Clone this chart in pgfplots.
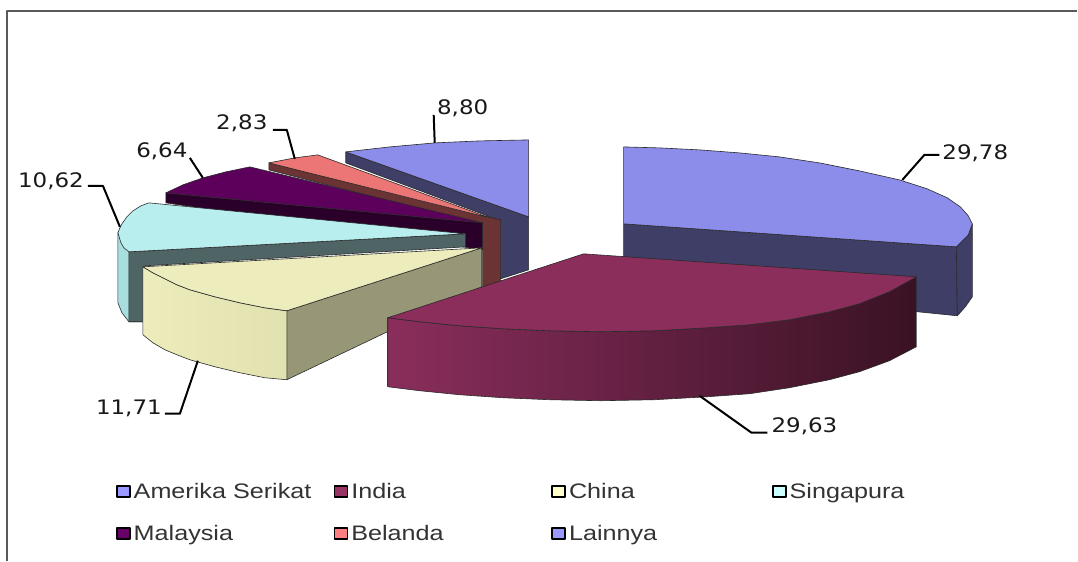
\documentclass[border=0pt]{standalone}
\usepackage{pgfplots}
\pgfplotsset{compat=1.18}
\usepackage{fontspec}
\setmainfont{Liberation Sans}
\newfontfamily\lab[FakeStretch=1.15]{DejaVu Sans}
\newfontfamily\leg[FakeStretch=1.2]{Liberation Sans}
\definecolor{amTop}{HTML}{8C8CEA}\definecolor{amSide}{HTML}{3E3E66}
\definecolor{inTop}{HTML}{8B2E5B}\definecolor{inA}{HTML}{8A2E5C}\definecolor{inB}{HTML}{5C1D3C}\definecolor{inC}{HTML}{3A1224}
\definecolor{chTop}{HTML}{ECECBC}\definecolor{chOut}{HTML}{E2E2B0}\definecolor{chSide}{HTML}{979778}
\definecolor{sgTop}{HTML}{B9EEEE}\definecolor{sgSide}{HTML}{4F6565}\definecolor{sgOut}{HTML}{A8DEDE}
\definecolor{myTop}{HTML}{5C005C}\definecolor{mySide}{HTML}{2A002A}
\definecolor{beTop}{HTML}{EC7676}\definecolor{beSide}{HTML}{6B3333}
\definecolor{edge}{HTML}{2A2A2A}
\definecolor{lgA}{HTML}{9999FF}\definecolor{lgB}{HTML}{993366}\definecolor{lgC}{HTML}{FFFFCC}
\definecolor{lgD}{HTML}{CCFFFF}\definecolor{lgE}{HTML}{660066}\definecolor{lgF}{HTML}{FF8080}
\newcommand{\dlab}[3]{\node[font=\lab\fontsize{20}{22}\selectfont,text=black!90,inner sep=0pt] at (axis cs:#1,#2) {#3};}
\begin{document}
\begin{tikzpicture}
\begin{axis}[
  scale only axis, width=1078pt, height=561pt,
  xmin=0, xmax=1078, ymin=0, ymax=561, y dir=reverse,
  hide axis, clip=false, no markers,
  every axis plot/.append style={forget plot, line width=0.6pt, draw=edge, line join=round},
  legend columns=4,
  legend cell align=left,
  legend image code/.code={\draw[#1,draw=black,line width=1.8pt] (0pt,-5.5pt) rectangle (13pt,5.5pt);},
  legend style={at={(axis cs:116,483.5)},anchor=north west,draw=none,fill=none,inner sep=0pt,outer sep=0pt,
    font=\leg\fontsize{21}{23}\selectfont,row sep=25.5pt,text=black!80,
    nodes={inner sep=0pt,outer sep=0pt},column sep=3pt},
]
\addlegendimage{fill=lgA}\addlegendentry{\makebox[197pt][l]{Amerika Serikat}}
\addlegendimage{fill=lgB}\addlegendentry{\makebox[197pt][l]{India}}
\addlegendimage{fill=lgC}\addlegendentry{\makebox[200pt][l]{China}}
\addlegendimage{fill=lgD}\addlegendentry{\makebox[130pt][l]{Singapura}}
\addlegendimage{fill=lgE}\addlegendentry{Malaysia}
\addlegendimage{fill=lgF}\addlegendentry{Belanda}
\addlegendimage{fill=lgA}\addlegendentry{Lainnya}

% full extent of the picture
\addplot[draw=none,line width=0pt] coordinates {(0,0)(1078,0)(1078,561)(0,561)};
% frame
\addplot[draw=black!65,line width=1.5pt] coordinates {(7,561)(7,11)(1078,11)};

% Lainnya
\addplot[fill=amSide] coordinates {(346,152)(529,217)(529,270)(501,279)(501,221)(346,163)} --cycle;
\addplot[fill=amTop] coordinates {(346,152)(390,147)(435,143)(480,141)(529,140)(529,217)} --cycle;

% Belanda
\addplot[fill=beSide] coordinates {(269,163)(501,220)(501,282)(483,287)(483,225)(269,170)} --cycle;
\addplot[fill=beTop] coordinates {(269,163)(295,158)(318,155)(490,218)} --cycle;

% Malaysia
\addplot[fill=mySide] coordinates {(166,193)(483,223)(483,250)(166,203)} --cycle;
\addplot[fill=myTop] coordinates {(166,193)(183,185)(203,178)(226,172)(250,167)(483,223)} --cycle;

% Singapura
\addplot[fill=sgOut] coordinates {(118,233)(118,303)(122,313)(129,322)(145,322)(145,262)(129,252)} --cycle;
\addplot[fill=sgSide] coordinates {(129,252)(466,234)(466,247)(145,266)(144,322)(129,322)} --cycle;
\addplot[fill=sgTop] coordinates {(129,252)(124,248)(121,243)(118,233)(120,228)(122,224)(127,217)(133,211)(141,206)(149,203)(466,234)} --cycle;

% China
\addplot[fill=chSide] coordinates {(287,311)(482,248)(482,287)(287,380)} --cycle;
\addplot[left color=chTop,middle color=chTop,right color=chOut] coordinates {(143,267)(143,335)(153,343)(165,350)(177,355)(190,360)(215,367)(240,373)(265,378)(287,380)(287,311)(265,308)(240,303)(215,297)(190,290)(177,285)(165,279)(153,273)} --cycle;
\addplot[fill=chTop] coordinates {(143,267)(482,248)(287,311)(265,308)(240,303)(215,297)(190,290)(177,285)(165,279)(153,273)} --cycle;

% Amerika Serikat
\addplot[fill=amSide] coordinates {(624,224)(957,247)(958,316)(800,300)(624,257)} --cycle;
\addplot[fill=amSide] coordinates {(973,224)(973,297)(966,307)(958,316)(957,247)(963,241)(969,235)} --cycle;
\addplot[fill=amTop] coordinates {(624,147)(660,148)(700,150)(740,153)(780,157)(820,163)(860,171)(900,180)(928,189)(948,198)(961,207)(969,216)(973,224)(969,235)(963,241)(957,247)(624,224)} --cycle;

% India
\addplot[left color=inA,middle color=inB,right color=inC] coordinates {(388,318)(388,387)(420,391)(460,395)(503,398)(550,400)(601,401)(655,400)(708,397)(750,394)(790,388)(830,380)(860,372)(890,361)(917,347)(917,277)(890,292)(860,304)(830,312)(790,320)(750,325)(708,328)(655,331)(601,332)(550,331)(503,329)(460,326)(420,322)} --cycle;
\addplot[fill=inTop] coordinates {(584,254)(917,277)(890,292)(860,304)(830,312)(790,320)(750,325)(708,328)(655,331)(601,332)(550,331)(503,329)(460,326)(420,322)(388,318)} --cycle;

% leaders
\addplot[draw=black,line width=2pt] coordinates {(903,180)(925,155)(940,155)};
\addplot[draw=black,line width=2pt] coordinates {(700,396)(752,433)(768,433)};
\addplot[draw=black,line width=2pt] coordinates {(198,361)(180,414)(165,414)};
\addplot[draw=black,line width=2pt] coordinates {(120,227)(103,186)(88,186)};
\addplot[draw=black,line width=2pt] coordinates {(203,178)(190,158)};
\addplot[draw=black,line width=2pt] coordinates {(295,159)(287,130)(273,130)};
\addplot[draw=black,line width=2pt] coordinates {(435,143)(434,115)};

\dlab{976}{153}{29,78}
\dlab{805}{427}{29,63}
\dlab{129}{409}{11,71}
\dlab{51}{181}{10,62}
\dlab{162}{151}{6,64}
\dlab{242}{123}{2,83}
\dlab{463}{108}{8,80}
\end{axis}
\end{tikzpicture}
\end{document}
